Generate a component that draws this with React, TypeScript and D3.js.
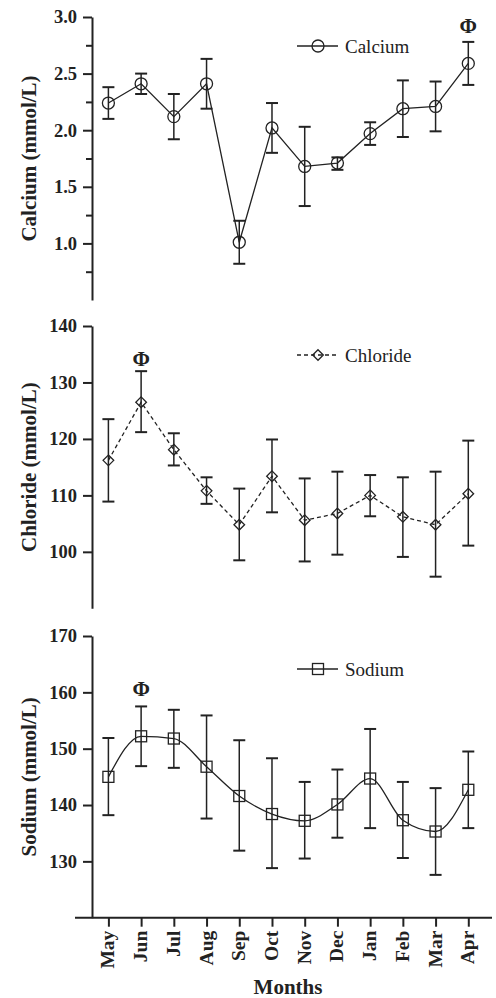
import { useEffect, useRef } from "react";
import * as d3 from "d3";

const months = ["May", "Jun", "Jul", "Aug", "Sep", "Oct", "Nov", "Dec", "Jan", "Feb", "Mar", "Apr"];

const calciumMean = [2.24, 2.41, 2.12, 2.41, 1.01, 2.02, 1.68, 1.71, 1.97, 2.19, 2.21, 2.59];
const calciumLow = [2.1, 2.32, 1.92, 2.19, 0.82, 1.8, 1.33, 1.65, 1.87, 1.94, 1.99, 2.4];
const calciumHigh = [2.38, 2.5, 2.32, 2.63, 1.2, 2.24, 2.03, 1.76, 2.07, 2.44, 2.43, 2.78];

const chlorideMean = [116.2, 126.5, 118.1, 110.8, 104.8, 113.4, 105.6, 106.8, 110.0, 106.2, 104.8, 110.3];
const chlorideLow = [108.9, 121.2, 115.3, 108.5, 98.5, 107.0, 98.3, 99.5, 106.3, 99.1, 95.6, 101.1];
const chlorideHigh = [123.5, 132.0, 121.0, 113.2, 111.2, 119.9, 113.0, 114.2, 113.6, 113.2, 114.2, 119.7];

const sodiumMean = [145.0, 152.2, 151.8, 146.8, 141.6, 138.4, 137.2, 140.1, 144.7, 137.3, 135.3, 142.7];
const sodiumLow = [138.2, 146.9, 146.6, 137.6, 131.9, 128.8, 130.5, 134.2, 135.9, 130.6, 127.6, 135.9];
const sodiumHigh = [151.9, 157.5, 156.9, 155.9, 151.5, 148.3, 144.1, 146.3, 153.5, 144.1, 143.0, 149.5];

const calciumTicks = [1.0, 1.5, 2.0, 2.5, 3.0];
const calciumMinor = [0.75, 1.25, 1.75, 2.25, 2.75];
const chlorideTicks = [100, 110, 120, 130, 140];
const sodiumTicks = [130, 140, 150, 160, 170];

const FONT = "'Liberation Serif', 'Times New Roman', serif";
const INK = "#222";

const App = () => {
  const ref = useRef<SVGSVGElement | null>(null);

  useEffect(() => {
    const svg = d3.select(ref.current);
    svg.selectAll("*").remove();

    const x = d3.scalePoint<string>().domain(months).range([108.4, 468.3]);
    const axisX = 92;

    const panels = [
      {
        name: "Calcium", mean: calciumMean, low: calciumLow, high: calciumHigh,
        domain: [0.5, 3.0], range: [300, 17], ticks: calciumTicks, minor: calciumMinor,
        fmt: d3.format(".1f"), marker: "circle", dashed: false, curve: d3.curveLinear,
        legendY: 46, phi: "Apr", phiY: 25, title: "Calcium (mmol/L)",
      },
      {
        name: "Chloride", mean: chlorideMean, low: chlorideLow, high: chlorideHigh,
        domain: [90, 140], range: [608.3, 326], ticks: chlorideTicks, minor: [],
        fmt: d3.format("d"), marker: "diamond", dashed: true, curve: d3.curveLinear,
        legendY: 355, phi: "Jun", phiY: 358, title: "Chloride (mmol/L)",
      },
      {
        name: "Sodium", mean: sodiumMean, low: sodiumLow, high: sodiumHigh,
        domain: [120, 170], range: [917.7, 636], ticks: sodiumTicks, minor: [],
        fmt: d3.format("d"), marker: "square", dashed: false, curve: d3.curveMonotoneX,
        legendY: 669, phi: "Jun", phiY: 688, title: "Sodium (mmol/L)",
      },
    ];

    const drawMarker = (g: any, kind: string, cx: number, cy: number) => {
      if (kind === "circle") {
        g.append("circle").attr("cx", cx).attr("cy", cy).attr("r", 6)
          .attr("fill", "none").attr("stroke", INK).attr("stroke-width", 1.3);
      } else if (kind === "diamond") {
        g.append("path")
          .attr("d", d3.symbol(d3.symbolDiamond2, 72)())
          .attr("transform", `translate(${cx},${cy})`)
          .attr("fill", "none").attr("stroke", INK).attr("stroke-width", 1.3);
      } else {
        g.append("rect").attr("x", cx - 5.5).attr("y", cy - 5.5).attr("width", 11).attr("height", 11)
          .attr("fill", "none").attr("stroke", INK).attr("stroke-width", 1.3);
      }
    };

    panels.forEach((p) => {
      const y = d3.scaleLinear().domain(p.domain).range(p.range);
      const g = svg.append("g");

      // y axis: major ticks with labels, minor ticks shorter
      const major = g.append("g").attr("transform", `translate(${axisX},0)`)
        .call(d3.axisLeft(y).tickValues(p.ticks).tickFormat(p.fmt as any).tickSize(9).tickSizeOuter(0).tickPadding(6));
      major.select(".domain").attr("stroke", INK).attr("stroke-width", 2);
      major.selectAll(".tick line").attr("stroke", INK).attr("stroke-width", 2);
      major.selectAll(".tick text")
        .attr("font-family", FONT).attr("font-size", 18.5).attr("font-weight", "bold").attr("fill", INK);

      if (p.minor.length) {
        const minorAxis = g.append("g").attr("transform", `translate(${axisX},0)`)
          .call(d3.axisLeft(y).tickValues(p.minor).tickFormat(() => "").tickSize(6).tickSizeOuter(0));
        minorAxis.select(".domain").remove();
        minorAxis.selectAll(".tick line").attr("stroke", INK).attr("stroke-width", 2);
      }

      // y title
      const mid = (p.range[0] + p.range[1]) / 2;
      g.append("text")
        .attr("transform", `translate(36,${mid}) rotate(-90)`)
        .attr("text-anchor", "middle")
        .attr("font-family", FONT).attr("font-size", 21).attr("font-weight", "bold").attr("fill", INK)
        .text(p.title);

      // error bars
      const eb = g.append("g").attr("stroke", INK).attr("stroke-width", 1.5);
      months.forEach((m, i) => {
        const cx = x(m)!;
        eb.append("line").attr("x1", cx).attr("x2", cx).attr("y1", y(p.low[i])).attr("y2", y(p.high[i]));
        eb.append("line").attr("x1", cx - 6).attr("x2", cx + 6).attr("y1", y(p.low[i])).attr("y2", y(p.low[i])).attr("stroke-width", 2);
        eb.append("line").attr("x1", cx - 6).attr("x2", cx + 6).attr("y1", y(p.high[i])).attr("y2", y(p.high[i])).attr("stroke-width", 2);
      });

      // line
      const line = d3.line<number>()
        .x((_, i) => x(months[i])!)
        .y((d) => y(d))
        .curve(p.curve);
      g.append("path").datum(p.mean)
        .attr("fill", "none").attr("stroke", INK).attr("stroke-width", 1.3)
        .attr("stroke-dasharray", p.dashed ? "4,3" : null)
        .attr("d", line);

      // markers
      p.mean.forEach((v, i) => drawMarker(g, p.marker, x(months[i])!, y(v)));

      // significance mark
      g.append("text")
        .attr("x", x(p.phi)!).attr("y", p.phiY)
        .attr("dy", "0.36em").attr("text-anchor", "middle")
        .attr("font-family", FONT).attr("font-size", 21).attr("font-weight", "bold").attr("fill", INK)
        .text("Φ");

      // legend
      g.append("line").attr("x1", 297).attr("x2", 338).attr("y1", p.legendY).attr("y2", p.legendY)
        .attr("stroke", INK).attr("stroke-width", 1.3)
        .attr("stroke-dasharray", p.dashed ? "4,3" : null);
      drawMarker(g, p.marker, 318, p.legendY);
      g.append("text")
        .attr("x", 345).attr("y", p.legendY).attr("dy", "0.35em")
        .attr("font-family", FONT).attr("font-size", 19).attr("fill", INK)
        .text(p.name);

      // x axis only on the bottom panel
      if (p.name === "Sodium") {
        const base = p.range[0];
        g.append("line").attr("x1", 75).attr("x2", 492).attr("y1", base).attr("y2", base)
          .attr("stroke", INK).attr("stroke-width", 2);
        const xa = g.append("g").attr("transform", `translate(0,${base})`)
          .call(d3.axisBottom(x).tickSize(9).tickSizeOuter(0).tickFormat(() => ""));
        xa.select(".domain").remove();
        xa.selectAll(".tick line").attr("stroke", INK).attr("stroke-width", 2);
        months.forEach((m) => {
          g.append("text")
            .attr("transform", `translate(${x(m)! + 6},${base + 13}) rotate(-90)`)
            .attr("text-anchor", "end")
            .attr("font-family", FONT).attr("font-size", 19.5).attr("font-weight", "bold").attr("fill", INK)
            .text(m);
        });
        g.append("text")
          .attr("x", 288).attr("y", 994).attr("text-anchor", "middle")
          .attr("font-family", FONT).attr("font-size", 21).attr("font-weight", "bold").attr("fill", INK)
          .text("Months");
      }
    });
  }, []);

  return (
    <svg ref={ref} width={496} height={998}
      style={{ position: "absolute", left: 0, top: 0, background: "#fff" }} />
  );
};

export default App;
